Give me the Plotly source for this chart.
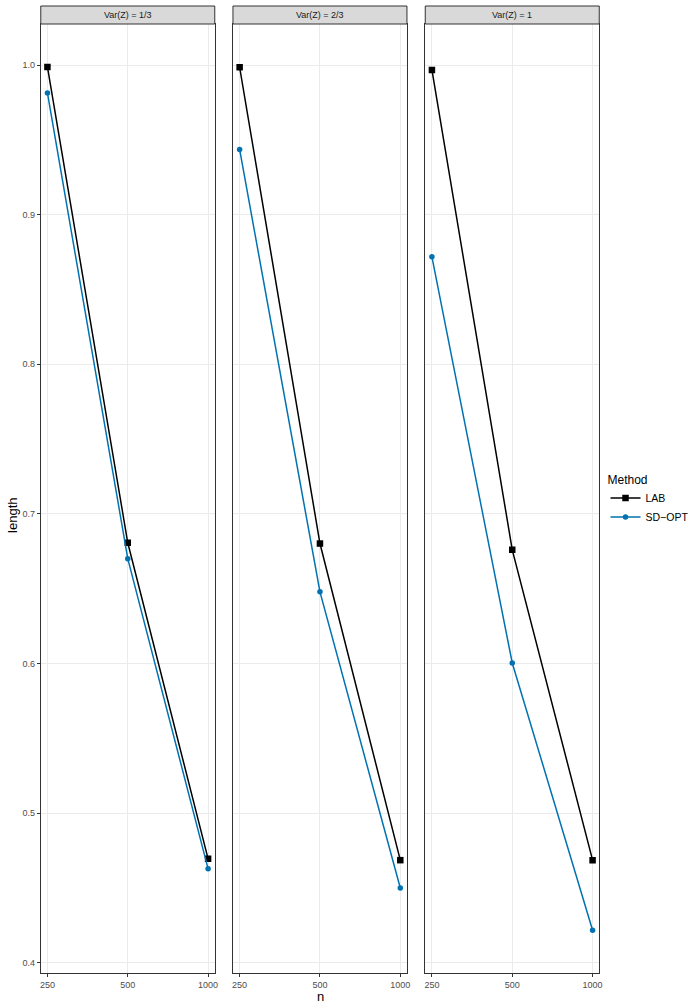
import plotly.graph_objects as go

# ---- data ----
n_values = [250, 500, 1000]
n_ticktext = ["250", "500", "1000"]
panels = ["Var(Z) = 1/3", "Var(Z) = 2/3", "Var(Z) = 1"]
lab_13 = [0.9987, 0.6807, 0.4695]
sd_13 = [0.9813, 0.6701, 0.4628]
lab_23 = [0.9985, 0.6802, 0.4686]
sd_23 = [0.9436, 0.6479, 0.4500]
lab_1 = [0.9967, 0.6760, 0.4686]
sd_1 = [0.8718, 0.6004, 0.4218]
y_ticks = [0.4, 0.5, 0.6, 0.7, 0.8, 0.9, 1.0]
y_ticktext = ["0.4", "0.5", "0.6", "0.7", "0.8", "0.9", "1.0"]

lab_series = [lab_13, lab_23, lab_1]
sd_series = [sd_13, sd_23, sd_1]

W, H = 699, 1006
FONT = "Liberation Sans, Arial, sans-serif"
LAB_COLOR = "#000000"
SD_COLOR = "#0072B2"

panel_px = [(40, 215), (233.3, 408.3), (426.7, 601.7)]
top_px, bottom_px = 24, 973
strip_top_px = 6

y_dom = [(H - bottom_px) / H, (H - top_px) / H]
y_range = [0.3932, 1.0274]
x_range = [2.373, 3.025]

fig = go.Figure()

for i in range(3):
    sfx = "" if i == 0 else str(i + 1)
    fig.add_trace(go.Scatter(
        x=n_values, y=lab_series[i], mode="lines+markers", name="LAB",
        legendgroup="LAB", showlegend=(i == 0),
        line=dict(color=LAB_COLOR, width=1.5),
        marker=dict(symbol="square", size=6.5, color=LAB_COLOR),
        xaxis="x" + sfx, yaxis="y" + sfx,
    ))
    fig.add_trace(go.Scatter(
        x=n_values, y=sd_series[i], mode="lines+markers", name="SD\u2212OPT",
        legendgroup="SD", showlegend=(i == 0),
        line=dict(color=SD_COLOR, width=1.5),
        marker=dict(symbol="circle", size=5.5, color=SD_COLOR),
        xaxis="x" + sfx, yaxis="y" + sfx,
    ))

layout = dict(
    width=W, height=H,
    margin=dict(l=0, r=0, t=0, b=0),
    paper_bgcolor="white", plot_bgcolor="white",
    font=dict(family=FONT, color="#000000"),
    showlegend=True,
    legend=dict(
        x=608 / W, y=(H - 468) / H, xanchor="left", yanchor="top",
        title=dict(text="Method", font=dict(size=12, color="#000000")),
        font=dict(size=10.5, color="#000000"),
        itemwidth=30, tracegroupgap=0, bgcolor="rgba(0,0,0,0)",
    ),
)

shapes = []
annotations = []
for i, (x0, x1) in enumerate(panel_px):
    sfx = "" if i == 0 else str(i + 1)
    anchor_sfx = "" if i == 0 else str(i + 1)
    layout["xaxis" + sfx] = dict(
        domain=[x0 / W, x1 / W], anchor="y" + anchor_sfx, type="log",
        range=x_range, tickvals=n_values, ticktext=n_ticktext,
        tickfont=dict(size=9, color="#4D4D4D", family=FONT),
        ticks="outside", ticklen=3, tickcolor="#333333", tickwidth=1,
        showgrid=True, gridcolor="#EBEBEB", gridwidth=1,
        showline=True, linecolor="#333333", linewidth=1, mirror=True,
        zeroline=False,
    )
    layout["yaxis" + sfx] = dict(
        domain=y_dom, anchor="x" + anchor_sfx, range=y_range,
        tickvals=y_ticks, ticktext=y_ticktext,
        showticklabels=(i == 0),
        tickfont=dict(size=9, color="#4D4D4D", family=FONT),
        ticks="outside" if i == 0 else "", ticklen=3, tickcolor="#333333", tickwidth=1,
        showgrid=True, gridcolor="#EBEBEB", gridwidth=1,
        showline=True, linecolor="#333333", linewidth=1, mirror=True,
        zeroline=False,
    )
    shapes.append(dict(
        type="rect", xref="paper", yref="paper",
        x0=x0 / W, x1=x1 / W, y0=(H - top_px) / H, y1=(H - strip_top_px) / H,
        fillcolor="#D9D9D9", line=dict(color="#333333", width=1), layer="above",
    ))
    annotations.append(dict(
        text=panels[i], xref="paper", yref="paper",
        x=(x0 + x1) / 2 / W, y=(H - (top_px + strip_top_px) / 2) / H,
        xanchor="center", yanchor="middle", showarrow=False,
        font=dict(size=9, color="#1A1A1A", family=FONT),
    ))

annotations.append(dict(
    text="length", xref="paper", yref="paper", x=12 / W, y=(H - 515) / H,
    xanchor="center", yanchor="middle", showarrow=False, textangle=-90,
    font=dict(size=13, color="#000000", family=FONT),
))
annotations.append(dict(
    text="n", xref="paper", yref="paper", x=321 / W, y=0,
    xanchor="center", yanchor="bottom", showarrow=False,
    font=dict(size=13, color="#000000", family=FONT),
))

layout["shapes"] = shapes
layout["annotations"] = annotations
fig.update_layout(**layout)

fig.write_html("out.html")
